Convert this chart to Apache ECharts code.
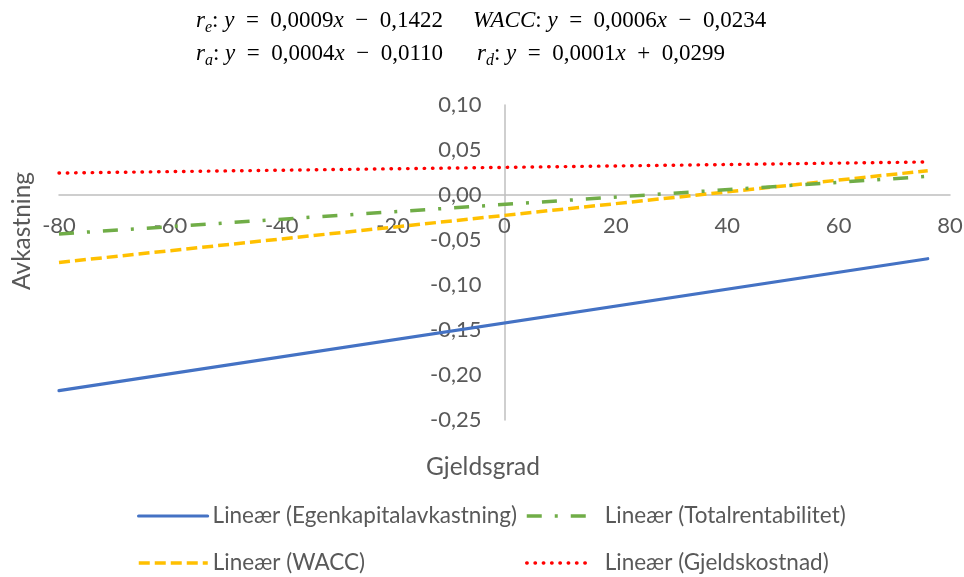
<!DOCTYPE html>
<html><head><meta charset="utf-8">
<script src="https://cdn.jsdelivr.net/npm/echarts@6/dist/echarts.min.js"></script>
<style>html,body{margin:0;padding:0;background:#fff}#c{width:964px;height:577px}</style>
</head><body><div id="c"></div>
<script>
// ---- data ----
const seriesNames = [
  'Lineær (Egenkapitalavkastning)',
  'Lineær (Totalrentabilitet)',
  'Lineær (WACC)',
  'Lineær (Gjeldskostnad)'
];
const xValues = [-80, 76];
const egenkapital = [-0.2174, -0.0708];
const totalrent = [-0.0433, 0.0207];
const wacc = [-0.0749, 0.0270];
const gjeld = [0.0244, 0.0367];
const xAxisRange = [-80, 80, 20];
const yAxisRange = [-0.25, 0.10, 0.05];
const xTitle = 'Gjeldsgrad';
const yTitle = 'Avkastning';
const eqLeft1 = ['r', 'e', '0,0009', '0,1422', '−'];
const eqLeft2 = ['r', 'a', '0,0004', '0,0110', '−'];
const eqRight1 = ['WACC', '', '0,0006', '0,0234', '−'];
const eqRight2 = ['r', 'd', '0,0001', '0,0299', '+'];

// ---- styling / layout ----
const FONT = 'Lato, "Open Sans", sans-serif';
const SERIF = '"Liberation Serif", "DejaVu Serif", serif';
const GREY = '#595959';
const colors = ['#4472C4', '#70AD47', '#FFC000', '#FF0000'];
const lineStyles = [
  {type: 'solid', width: 3.2, cap: 'round'},
  {type: [15, 13, 3, 13], width: 3.5, cap: 'butt'},
  {type: [11, 5], width: 3.5, cap: 'butt'},
  {type: [0.5, 7.8], width: 3.4, cap: 'round'}
];
const allValues = [egenkapital, totalrent, wacc, gjeld];
const W = 964, H = 577;
const G = {left: 59, right: 14, top: 105, bottom: 157};
const gridW = W - G.left - G.right, gridH = H - G.top - G.bottom;
// move the axes so they cross at the origin (Excel style)
const xAxisOffset = -gridH * (0 - yAxisRange[0]) / (yAxisRange[1] - yAxisRange[0]);
const yAxisOffset = -gridW * (0 - xAxisRange[0]) / (xAxisRange[1] - xAxisRange[0]);

const series = allValues.map((vals, i) => ({
  name: seriesNames[i],
  type: 'line',
  data: xValues.map((x, j) => [x, vals[j]]),
  symbol: 'none',
  silent: true,
  z: 10 - i,
  lineStyle: Object.assign({color: colors[i]}, lineStyles[i]),
  itemStyle: {color: colors[i], opacity: 0}
}));

function eqText(p) {
  const sub = p[1] ? '{s|' + p[1] + '}' : '';
  return '{v|' + p[0] + '}' + sub + '{n|: }{v|y}{n|  =  ' + p[2] + '}{v|x}{n|  ' + p[4] + '  ' + p[3] + '}';
}
const rich = {
  v: {fontFamily: SERIF, fontStyle: 'italic', fontSize: 23, color: '#000', lineHeight: 30, verticalAlign: 'middle'},
  s: {fontFamily: SERIF, fontStyle: 'italic', fontSize: 16, color: '#000', lineHeight: 30, verticalAlign: 'bottom'},
  n: {fontFamily: SERIF, fontSize: 23, color: '#000', lineHeight: 30, verticalAlign: 'middle'}
};
function eqGraphic(p, x, y) {
  return {type: 'text', left: x, top: y, style: {text: eqText(p), rich: rich, verticalAlign: 'top'}};
}

const legendPos = [[137, 503, 69, 5], [525, 503, 63, 15], [137, 550, 69, 5], [525, 550, 63, 15]];
const legends = seriesNames.map((n, i) => ({
  data: [n], left: legendPos[i][0], top: legendPos[i][1], itemWidth: legendPos[i][2],
  padding: 0, itemHeight: 14,
  itemStyle: {opacity: 0},
  lineStyle: {width: lineStyles[i].width},
  textStyle: {fontFamily: FONT, fontSize: 22.5, color: GREY, lineHeight: 26, padding: [0, 0, 0, legendPos[i][3] - 5]}
}));

const chart = echarts.init(document.getElementById('c'), null, {renderer: 'canvas'});
chart.setOption({
  animation: false,
  backgroundColor: '#fff',
  grid: {left: G.left, right: G.right, top: G.top, bottom: G.bottom, containLabel: false, outerBoundsMode: 'none'},
  xAxis: {
    type: 'value', min: xAxisRange[0], max: xAxisRange[1], interval: xAxisRange[2],
    position: 'bottom', offset: xAxisOffset,
    axisLine: {onZero: false, lineStyle: {color: '#BFBFBF', width: 1.5}},
    axisTick: {show: false}, splitLine: {show: false},
    axisLabel: {color: GREY, fontFamily: FONT, fontSize: 22, margin: 20, formatter: v => String(v)}
  },
  yAxis: {
    type: 'value', min: yAxisRange[0], max: yAxisRange[1], interval: yAxisRange[2],
    position: 'left', offset: yAxisOffset,
    axisLine: {show: true, onZero: false, lineStyle: {color: '#BFBFBF', width: 1.5}},
    axisTick: {show: false}, splitLine: {show: false},
    axisLabel: {color: GREY, fontFamily: FONT, fontSize: 22, margin: 23,
      formatter: v => (Math.round(v * 100) / 100).toFixed(2).replace('.', ',')}
  },
  legend: legends,
  series: series,
  graphic: [
    eqGraphic(eqLeft1, 196, 9),
    eqGraphic(eqLeft2, 196, 42),
    eqGraphic(eqRight1, 473, 9),
    eqGraphic(eqRight2, 477, 42),
    {type: 'text', x: 483, y: 467, style: {text: xTitle, fontFamily: FONT, fontSize: 24.5, fill: GREY, align: 'center', verticalAlign: 'middle'}},
    {type: 'text', x: 22, y: 231, rotation: Math.PI / 2, style: {text: yTitle, fontFamily: FONT, fontSize: 24.5, fill: GREY, align: 'center', verticalAlign: 'middle'}}
  ]
});
</script></body></html>
